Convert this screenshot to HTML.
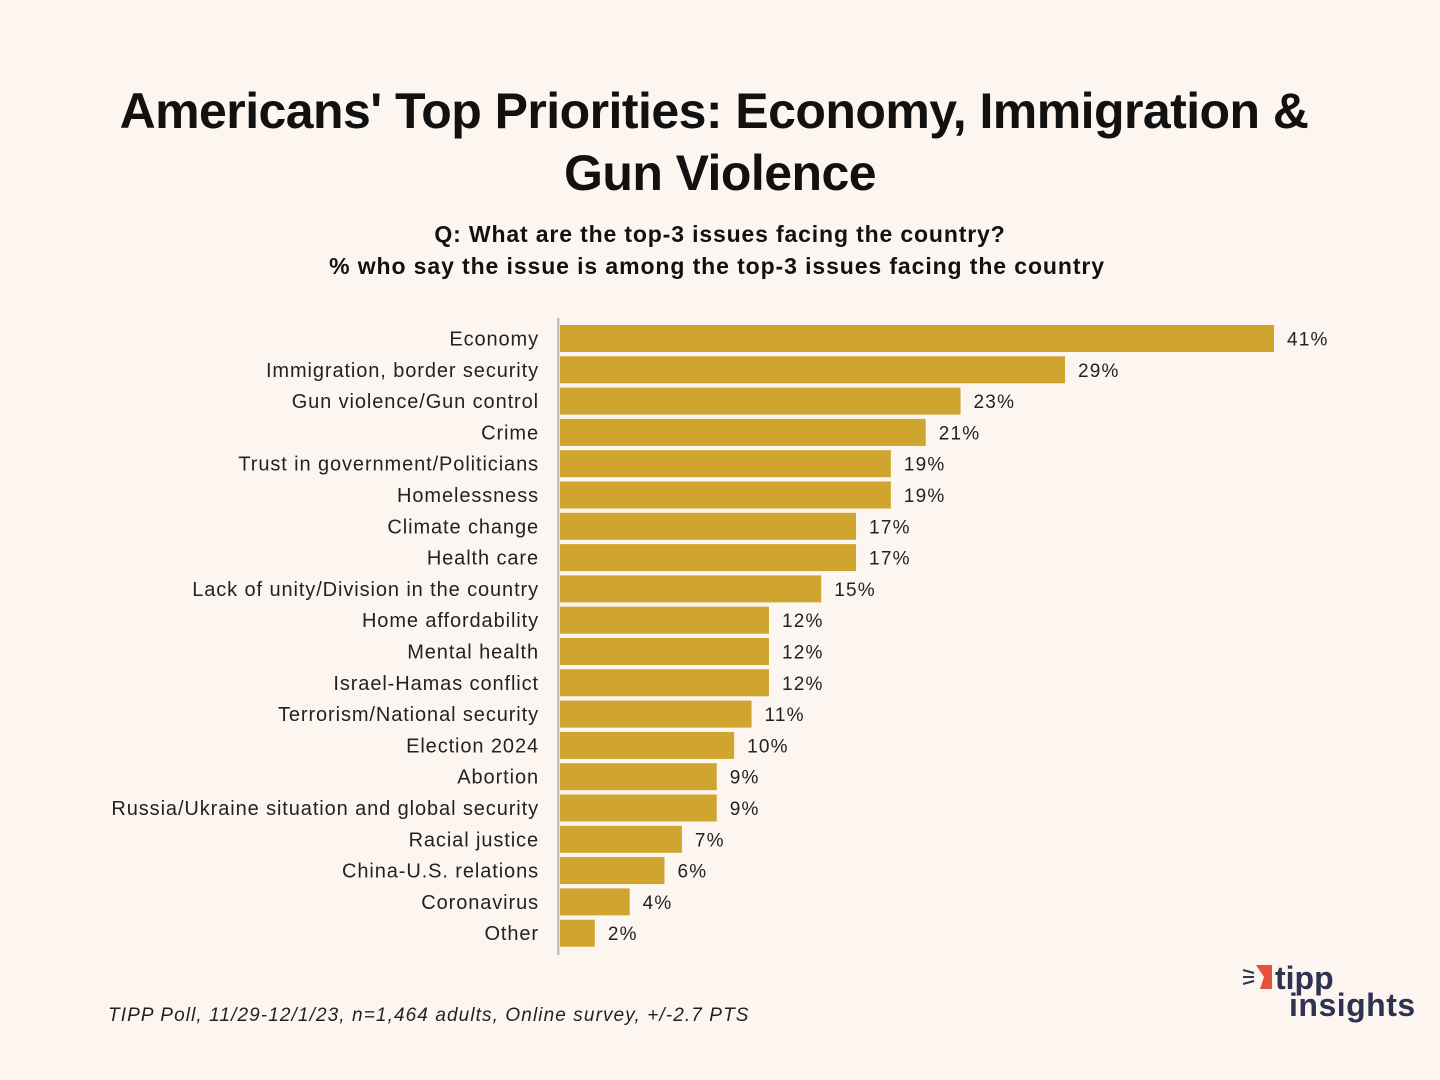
<!DOCTYPE html>
<html><head><meta charset="utf-8"><style>
html,body{margin:0;padding:0;background:#fdf6f0;}
svg{display:block;font-family:"Liberation Sans","DejaVu Sans",sans-serif;}
</style></head><body>
<svg id="chart" width="1440" height="1080" viewBox="0 0 1440 1080">
<rect width="1440" height="1080" fill="#fdf6f0"/>
<text x="714" y="128" text-anchor="middle" font-size="50" font-weight="bold" letter-spacing="-0.55" fill="#111">Americans' Top Priorities: Economy, Immigration &amp;</text>
<text x="720" y="190" text-anchor="middle" font-size="50" font-weight="bold" letter-spacing="-0.55" fill="#111">Gun Violence</text>
<text x="720" y="242" text-anchor="middle" font-size="23" font-weight="bold" letter-spacing="0.85" fill="#111">Q:  What are the top-3 issues facing the country?</text>
<text x="717" y="274" text-anchor="middle" font-size="23" font-weight="bold" letter-spacing="0.9" fill="#111">% who say the issue is among the top-3 issues facing the country</text>
<g id="bars"></g>
<rect x="557" y="318" width="2.5" height="637" fill="#c4c0c0"/>
<text x="108" y="1021" font-size="19" font-style="italic" letter-spacing="1.1" fill="#222">TIPP Poll, 11/29-12/1/23, n=1,464 adults, Online survey, +/-2.7 PTS</text>
<g>
<polygon points="1256,965 1272,965 1272,989 1260,989 1264,977" fill="#e8503f"/>
<line x1="1243" y1="970" x2="1254" y2="973" stroke="#2e3350" stroke-width="2"/>
<line x1="1243" y1="977" x2="1254" y2="977" stroke="#2e3350" stroke-width="2"/>
<line x1="1243" y1="984" x2="1254" y2="981" stroke="#2e3350" stroke-width="2"/>
<text x="1275" y="989" font-size="32" font-weight="bold" fill="#2e3350">tipp</text>
<text x="1289" y="1016" font-size="32" font-weight="bold" letter-spacing="0.5" fill="#2e3350">insights</text>
</g>
</svg>
<script>
const categories = ["Economy","Immigration, border security","Gun violence/Gun control","Crime","Trust in government/Politicians","Homelessness","Climate change","Health care","Lack of unity/Division in the country","Home affordability","Mental health","Israel-Hamas conflict","Terrorism/National security","Election 2024","Abortion","Russia/Ukraine situation and global security","Racial justice","China-U.S. relations","Coronavirus","Other"];
const values = [41,29,23,21,19,19,17,17,15,12,12,12,11,10,9,9,7,6,4,2];
const valueLabels = ["41%","29%","23%","21%","19%","19%","17%","17%","15%","12%","12%","12%","11%","10%","9%","9%","7%","6%","4%","2%"];
const NS = "http://www.w3.org/2000/svg";
const x0 = 560, pxPerUnit = (1274-560)/41;
const xScale = v => x0 + v*pxPerUnit;
const rowTop = 325, step = 31.3, barH = 27;
const yScale = i => rowTop + i*step;
const g = document.getElementById("bars");
categories.forEach((c,i)=>{
  const y = yScale(i);
  const r = document.createElementNS(NS,"rect");
  r.setAttribute("x",x0); r.setAttribute("y",y);
  r.setAttribute("width",xScale(values[i])-x0); r.setAttribute("height",barH);
  r.setAttribute("fill","#cfa52f");
  
  
  g.appendChild(r);
  const t = document.createElementNS(NS,"text");
  t.setAttribute("x",539); t.setAttribute("y",y+barH/2+7);
  t.setAttribute("text-anchor","end"); t.setAttribute("font-size","20"); t.setAttribute("fill","#222");
  t.setAttribute("letter-spacing","0.9");
  t.textContent = c;
  
  
  g.appendChild(t);
  const v = document.createElementNS(NS,"text");
  v.setAttribute("x",xScale(values[i])+13); v.setAttribute("y",y+barH/2+7);
  v.setAttribute("font-size","19"); v.setAttribute("fill","#222");
  v.setAttribute("letter-spacing","1.2");
  v.textContent = valueLabels[i];
  
  
  g.appendChild(v);
});
</script>
</body></html>
